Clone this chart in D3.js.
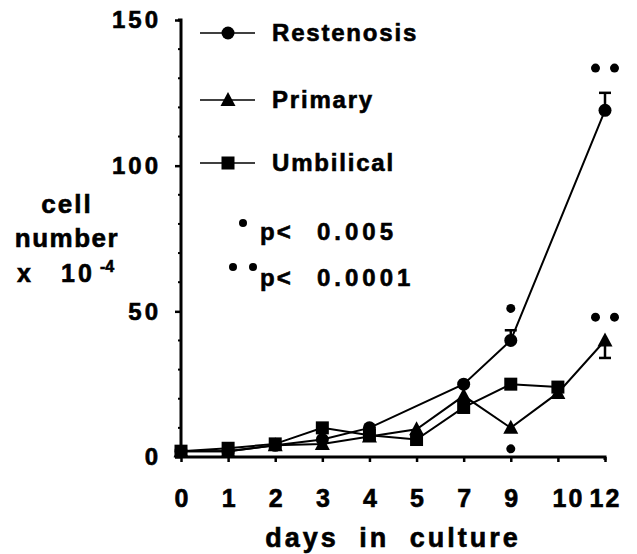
<!DOCTYPE html>
<html>
<head>
<meta charset="utf-8">
<script src="https://cdn.jsdelivr.net/npm/d3@7"></script>
<style>
  body { margin: 0; background: #fff; }
  text { font-family: "Liberation Sans", Arial, sans-serif; font-weight: bold; fill: #000; stroke: #000; stroke-width: 0.6px; }
</style>
</head>
<body>
<div id="container"></div>
<script>
/* data */
const days = ["0", "1", "2", "3", "4", "5", "7", "9", "10", "12"];
const restenosis = [2, 2, 4, 6, 10, null, 25, 40, null, 119];
const primary    = [2, 2, 4, 4.5, 7, 9.5, 21, 10, 22, 40];
const umbilical  = [2, 3, 4.5, 10, 7.5, 6, 17, 25, 24, null];
const yTicks = [0, 50, 100, 150];

// error bars: [series, day, from, to]
const errorBars = [
  ["Restenosis", "9", 40, 43.5],
  ["Restenosis", "12", 119, 125],
  ["Primary", "12", 40, 34]
];
// significance marks: [day, value, count]
const sigMarks = [
  ["9", 51, 1],
  ["9", 2.8, 1],
  ["12", 133.5, 2],
  ["12", 48, 2]
];

const width = 637, height = 554;
const svg = d3.select("#container").append("svg")
  .attr("width", width).attr("height", height);

const xScale = d3.scalePoint().domain(days).range([181, 605]);
const yScale = d3.scaleLinear().domain([0, 150]).range([457, 20]);

const series = [
  { name: "Restenosis", values: restenosis, shape: "circle" },
  { name: "Primary", values: primary, shape: "triangle" },
  { name: "Umbilical", values: umbilical, shape: "square" }
];

function marker(g, shape, x, y) {
  if (shape === "circle") {
    g.append("circle").attr("cx", x).attr("cy", y).attr("r", 6.5);
  } else if (shape === "triangle") {
    g.append("path").attr("d", `M${x},${y - 8}L${x + 7.5},${y + 6}L${x - 7.5},${y + 6}Z`);
  } else {
    g.append("rect").attr("x", x - 6.5).attr("y", y - 6.5).attr("width", 13).attr("height", 13);
  }
}

/* axes */
const yAxis = d3.axisLeft(yScale).tickValues(yTicks).tickSize(6).tickPadding(17);
const yAxisGroup = svg.append("g")
  .attr("transform", `translate(${xScale(days[0])},0)`)
  .call(yAxis);
yAxisGroup.select(".domain").attr("stroke-width", 3).attr("d", `M-3,${yScale(150)}H0V${yScale(0)}`);
yAxisGroup.selectAll(".tick line").attr("stroke-width", 2.5);
yAxisGroup.selectAll(".tick text")
  .style("font-size", "24px").attr("letter-spacing", "3px").attr("dx", "3px");

// minor ticks every 10
svg.append("g").selectAll("line")
  .data(d3.range(10, 150, 10).filter(v => v % 50 !== 0))
  .join("line")
  .attr("x1", xScale(days[0]) - 3).attr("x2", xScale(days[0]))
  .attr("y1", d => yScale(d)).attr("y2", d => yScale(d))
  .attr("stroke", "#000").attr("stroke-width", 2);

const xAxis = d3.axisBottom(xScale).tickSize(5);
const xAxisGroup = svg.append("g")
  .attr("transform", `translate(0,${yScale(0)})`)
  .call(xAxis);
xAxisGroup.select(".domain").attr("stroke-width", 3).attr("d", `M${xScale(days[0])},0H${xScale("12")}V3`);
xAxisGroup.selectAll(".tick line").attr("stroke-width", 2.5);
xAxisGroup.selectAll(".tick text")
  .attr("y", 50).attr("dy", 0)
  .attr("dx", d => d === "10" ? "10px" : "0px")
  .style("font-size", "25px").attr("letter-spacing", d => d.length > 1 ? "2px" : "0px");

/* axis titles */
svg.append("text").attr("x", 393).attr("y", 547).attr("text-anchor", "middle")
  .style("font-size", "27px").attr("letter-spacing", "3px").attr("word-spacing", "10px")
  .text("days in culture");

const yTitle = svg.append("text").style("font-size", "26px").attr("text-anchor", "middle");
yTitle.append("tspan").attr("x", 67).attr("y", 213).attr("letter-spacing", "2px").text("cell");
yTitle.append("tspan").attr("x", 67).attr("y", 247).attr("letter-spacing", "1.5px").text("number");
const t3 = svg.append("text").attr("y", 282).style("font-size", "25px");
t3.append("tspan").attr("x", 17).text("x");
t3.append("tspan").attr("x", 61).attr("letter-spacing", "3px").text("10");
t3.append("tspan").attr("x", 100).attr("y", 272).style("font-size", "16px").text("-4");

/* lines */
const lineGen = d => d3.line()
  .x(v => xScale(v[0]))
  .y(v => yScale(v[1]))(days.map((day, i) => [day, d.values[i]]).filter(v => v[1] !== null));

svg.append("g").selectAll("path")
  .data(series)
  .join("path")
  .attr("d", lineGen)
  .attr("fill", "none")
  .attr("stroke", "#000")
  .attr("stroke-width", 2);

/* error bars */
errorBars.forEach(([name, day, from, to]) => {
  const x = xScale(day);
  svg.append("line").attr("x1", x).attr("x2", x)
    .attr("y1", yScale(from)).attr("y2", yScale(to))
    .attr("stroke", "#000").attr("stroke-width", 2.5);
  svg.append("line").attr("x1", x - 6).attr("x2", x + 6)
    .attr("y1", yScale(to)).attr("y2", yScale(to))
    .attr("stroke", "#000").attr("stroke-width", 2.5);
});

/* markers */
const markerGroup = svg.append("g").attr("fill", "#000");
series.forEach(s => {
  days.forEach((day, i) => {
    if (s.values[i] !== null) marker(markerGroup, s.shape, xScale(day), yScale(s.values[i]));
  });
});

/* significance marks */
sigMarks.forEach(([day, val, count]) => {
  const offsets = count === 1 ? [0] : [-9.5, 9.5];
  offsets.forEach(o => {
    svg.append("circle").attr("cx", xScale(day) + o).attr("cy", yScale(val)).attr("r", 4.5);
  });
});

/* legend */
const legend = svg.append("g");
series.forEach((s, i) => {
  const y = [33, 100, 163][i];
  legend.append("line").attr("x1", 200).attr("x2", 255).attr("y1", y).attr("y2", y)
    .attr("stroke", "#000").attr("stroke-width", 1.5);
  marker(legend, s.shape, 228, y);
  legend.append("text").attr("x", 272).attr("y", y + 8)
    .style("font-size", "24px").attr("letter-spacing", "1.8px").text(s.name);
});

/* p-value notes */
svg.append("circle").attr("cx", 243).attr("cy", 223).attr("r", 4);
const p1 = svg.append("text").attr("y", 240).style("font-size", "24px").attr("letter-spacing", "2px");
p1.append("tspan").attr("x", 260).text("p<");
p1.append("tspan").attr("x", 317).attr("letter-spacing", "4px").text("0.005");
svg.append("circle").attr("cx", 233).attr("cy", 267).attr("r", 4);
svg.append("circle").attr("cx", 253).attr("cy", 267).attr("r", 4);
const p2 = svg.append("text").attr("y", 286).style("font-size", "24px").attr("letter-spacing", "2px");
p2.append("tspan").attr("x", 260).text("p<");
p2.append("tspan").attr("x", 317).attr("letter-spacing", "4px").text("0.0001");
</script>
</body>
</html>
